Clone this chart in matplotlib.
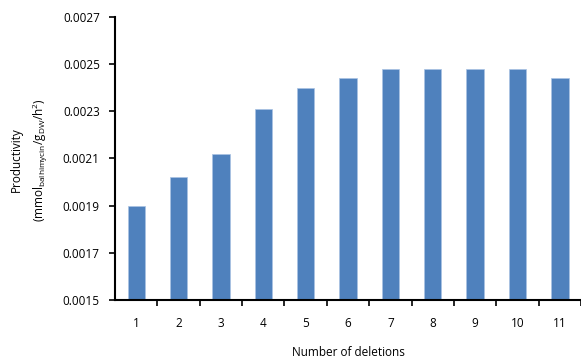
import matplotlib.pyplot as plt
import numpy as np

plt.rcParams['font.family'] = ['Open Sans', 'DejaVu Sans']
plt.rcParams['mathtext.fontset'] = 'custom'
plt.rcParams['mathtext.rm'] = 'Open Sans'
plt.rcParams['mathtext.it'] = 'Open Sans'

# number of deletions and productivity
deletions = ['1', '2', '3', '4', '5', '6', '7', '8', '9', '10', '11']
productivity = [0.00190, 0.00202, 0.00212, 0.00231, 0.00240, 0.00244,
                0.00248, 0.00248, 0.00248, 0.00248, 0.00244]
yticks = [0.0015, 0.0017, 0.0019, 0.0021, 0.0023, 0.0025, 0.0027]

fig = plt.figure(figsize=(5.81, 3.6), dpi=100)
ax = fig.add_axes([0.198, 0.167, 0.802, 0.786])

x = np.arange(len(deletions))
ax.bar(x, productivity, width=0.41, color='#4F81BD', edgecolor='#A9C2E3', linewidth=0.5)

ax.set_ylim(0.0015, 0.0027)
ax.set_yticks(yticks)
ax.set_yticklabels(['%.4f' % v for v in yticks], fontsize=8.5)
ax.set_xlim(-0.5, len(deletions) - 0.5)
ax.set_xticks(x)
ax.set_xticklabels(deletions, fontsize=8.5)
ax.tick_params(axis='x', which='major', length=0, pad=12)
ax.set_xticks(np.arange(len(deletions)) + 0.5, minor=True)
ax.tick_params(axis='x', which='minor', length=4, width=1.2)
ax.tick_params(axis='y', length=4, width=1.2, pad=7)

for s in ['top', 'right']:
    ax.spines[s].set_visible(False)
for s in ['left', 'bottom']:
    ax.spines[s].set_linewidth(1.5)

# axis titles placed by hand, as in the original
fig.text(348 / 581, 1 - 352 / 360, 'Number of deletions', fontsize=8.5,
         ha='center', va='center')
fig.text(30 / 581, 1 - 160 / 360,
         'Productivity\n(mmol$_{\\mathrm{balhimycin}}$/g$_{\\mathrm{DW}}$/h$^{2}$)',
         fontsize=8.5, ha='center', va='center', rotation=90,
         linespacing=1.6, multialignment='center')

fig.savefig('out.png', dpi=100)
